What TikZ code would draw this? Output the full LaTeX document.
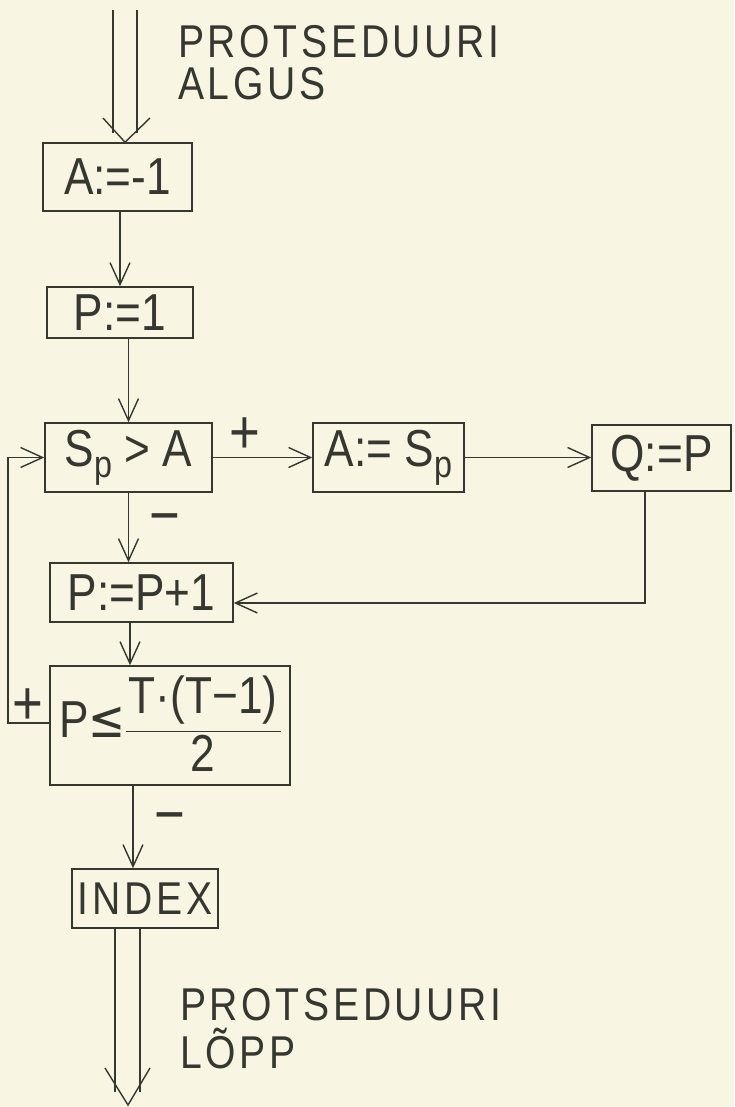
\documentclass[tikz,border=0pt]{standalone}
\usepackage{fontspec}
\setmainfont{Liberation Sans}[FakeStretch=0.85]
\newfontfamily\symf{DejaVu Sans}[FakeStretch=0.85]
\usetikzlibrary{arrows.meta}
\definecolor{paper}{RGB}{248,245,226}
\definecolor{ink}{RGB}{55,55,50}
\begin{document}
\begin{tikzpicture}[x=1pt,y=-1pt,
  box/.style={draw=ink, line width=1.5pt, inner sep=0pt, text=ink,
    font=\fontsize{52}{56}\selectfont},
  conn/.style={draw=ink, line width=1.4pt, -{Straight Barb[length=22pt,width=20pt,line width=1.4pt]}},
  plain/.style={draw=ink, line width=1.4pt},
  sign/.style={text=ink, font=\fontsize{62}{64}\selectfont, inner sep=0pt},
  title/.style={text=ink, anchor=base west, inner sep=0pt,
    font=\fontsize{46}{50}\selectfont\addfontfeature{LetterSpace=8}}]
\fill[paper] (0,0) rectangle (734,1107);
\useasboundingbox (0,0) rectangle (734,1107);
% boxes
\node[box, minimum width=149, minimum height=68] (a1) at (117.5,177) {A:=-1};
\node[box, minimum width=146, minimum height=51] (p1) at (120,312.5) {P:=1};
\node[box, minimum width=167, minimum height=69] (sa) at (128.5,457.5) {S\raisebox{-0.4ex}{\fontsize{38}{40}\selectfont p} > A};
\node[box, minimum width=151, minimum height=69] (as) at (388.5,457.5) {A:= S\raisebox{-0.4ex}{\fontsize{38}{40}\selectfont p}};
\node[box, minimum width=139, minimum height=66] (q) at (661.5,458) {Q:=P};
\node[box, minimum width=183, minimum height=59] (pp) at (141.5,592.5) {P:=P+1};
\node[box, minimum width=240, minimum height=119] (le) at (170,725.5)
  {\raisebox{-6pt}[\height][\depth]{P{\symf ≤}\setlength{\arrayrulewidth}{1.8pt}\begin{tabular}{@{\hspace{3pt}}c@{\hspace{3pt}}}T·(T−1)\\[0pt]\hline\rule{0pt}{38pt}2\end{tabular}}};
\node[box, minimum width=146, minimum height=59] (ix) at (145,898.5) {\fontsize{46}{50}\selectfont\addfontfeature{LetterSpace=8}INDEX};
% titles
\node[title] (t1) at (178,58) {PROTSEDUURI};
\node[title] (t2) at (178,100) {ALGUS};
\node[title] (t3) at (180,1020) {PROTSEDUURI};
\node[title] (t4) at (180,1068) {LÕPP};
% start double arrow
\coordinate (stip) at ([xshift=7.5]a1.north);
\coordinate (sl) at (113,10);
\coordinate (sr) at (137,10);
\draw[plain] (sl) -- (sl |- 0,133);
\draw[plain] (sr) -- (sr |- 0,133);
\draw[plain] (103,118) -- (stip) -- (150,118);
% connectors
\draw[conn] (p1.north |- a1.south) -- (p1.north);
\draw[conn] (sa.north |- p1.south) -- (sa.north);
\draw[conn] (sa.east) -- (as.west);
\node[sign] (plus1) at (245,436) {+};
\draw[conn] (as.east) -- (q.west |- as.east);
\coordinate (qd) at (645,603);
\draw[conn] (q.south -| qd) -- (qd) -- (pp.east |- qd);
\draw[conn] (sa.south) -- (sa.south |- pp.north);
\node[sign] (minus1) at (165,525) {−};
\coordinate (pd) at (130,0);
\draw[conn] (pp.south -| pd) -- (le.north -| pd);
\coordinate (lb) at (8,723);
\coordinate (lt) at (8,457.5);
\draw[conn] (le.west |- lb) -- (lb) -- (lt) -- (sa.west);
\node[sign] (plus2) at (28,707) {+};
\coordinate (ld) at (133,0);
\draw[conn] (le.south -| ld) -- (ix.north -| ld);
\node[sign] (minus2) at (170,824) {−};
% end double arrow
\coordinate (etip) at (128,1105);
\coordinate (el) at (115,0);
\coordinate (er) at (140,0);
\draw[plain] (ix.south -| el) -- (el |- 0,1092);
\draw[plain] (ix.south -| er) -- (er |- 0,1092);
\draw[plain] (105,1068) -- (etip) -- (150,1068);
\end{tikzpicture}
\end{document}
